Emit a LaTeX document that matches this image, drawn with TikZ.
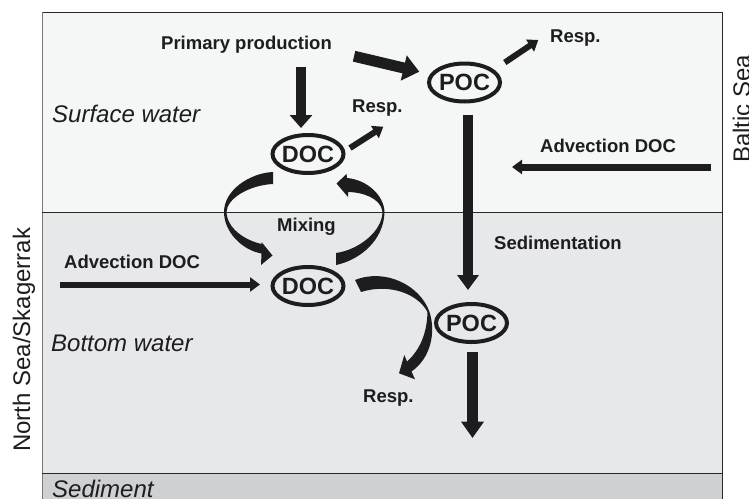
\documentclass[tikz,border=0pt]{standalone}
\usepackage{fontspec}
\setmainfont{Liberation Sans}
\usetikzlibrary{arrows.meta,shapes.geometric,calc}
\definecolor{ink}{RGB}{29,29,31}
\definecolor{surf}{RGB}{245,246,246}
\definecolor{botw}{RGB}{231,232,234}
\definecolor{sedc}{RGB}{207,208,210}
\definecolor{framec}{RGB}{40,40,40}
\definecolor{leftc}{RGB}{120,120,120}
\begin{document}
\begin{tikzpicture}[x=1pt,y=-1pt,
  lbl/.style={font=\fontsize{18.5}{20}\selectfont\bfseries, text=ink, inner sep=0pt, anchor=base west},
  zone/.style={font=\fontsize{24}{26}\selectfont\itshape, text=ink, inner sep=0pt, anchor=base west},
  side/.style={font=\fontsize{24}{26}\selectfont, text=ink, inner sep=0pt, anchor=base west, rotate=90},
  oval/.style={ellipse, draw=ink, line width=4pt, minimum width=71pt, minimum height=38pt, inner sep=0pt, font=\fontsize{23.5}{25}\selectfont\bfseries, text=ink},
  blk/.style={draw=ink, line cap=butt},
  ribbon/.style={fill=ink, draw=none}]
\useasboundingbox (0,0) rectangle (749,498);
% layers
\fill[surf] (42,12) rectangle (722,212);
\fill[botw] (42,212) rectangle (722,473);
\fill[sedc] (42,473) rectangle (722,500);
\draw[framec, line width=1pt] (42,12) -- (722,12) -- (722,500);
\draw[leftc, line width=1pt] (42,12) -- (42,500);
\draw[framec, line width=1pt] (42,212) -- (722,212);
\draw[framec, line width=1pt] (42,473) -- (722,473);
% labels
\node[lbl] (pp) at (161,49) {Primary production};
\node[lbl] (r1) at (550,42) {Resp.};
\node[lbl] (r2) at (352,112) {Resp.};
\node[zone] (sw) at (52,122) {Surface water};
\node[lbl] (advR) at (540,152.5) {Advection DOC};
\node[lbl] (mix) at (277,231) {Mixing};
\node[lbl] (sedl) at (494,249) {Sedimentation};
\node[lbl] (advL) at (64,268) {Advection DOC};
\node[zone] (bw) at (51,351) {Bottom water};
\node[lbl] (r3) at (363,402) {Resp.};
\node[zone] (sd) at (52,497) {Sediment};
\node[side] (ns) at (30,452) {North Sea/Skagerrak};
\node[side] (bs) at (750,163) {Baltic Sea};
% pools
\node[oval] (pt) at (464.5,82.5) {\makebox[0pt]{POC}};
\node[oval] (dt) at (308,154) {\makebox[0pt]{DOC}};
\node[oval] (db) at (308,286) {\makebox[0pt]{DOC}};
\node[oval] (pb) at (471.5,323) {\makebox[0pt]{POC}};
\coordinate (sink) at (472.5,438);
% straight arrows
\draw[blk, line width=10pt, -{Triangle[length=13pt,width=22pt]}]
  ($(pp.south -| dt.north)+(-7,14)$) -- ($(dt.north)+(-7,-5)$);
\draw[blk, line width=11pt, -{Triangle[length=16pt,width=25pt]}]
  ($(pp.east)+(22,12)$) -- ($(pt.west)+(-7.7,-10.8)$);
\draw[blk, line width=6pt, -{Triangle[length=10pt,width=14pt]}]
  ($(pt.center)+(40.3,-20)$) -- ($(r1.base west)+(-11.7,-2)$);
\draw[blk, line width=6pt, -{Triangle[length=10pt,width=14pt]}]
  ($(dt.center)+(42,-6)$) -- ($(r2.base west)+(31.3,14.7)$);
\draw[blk, line width=10pt, -{Triangle[length=15pt,width=21pt]}]
  ($(pt.south)+(3.5,11.5)$) -- ($(pb.north)+(-3.5,-12)$);
\draw[blk, line width=7pt, -{Triangle[length=10pt,width=14pt]}]
  ($(advR.base east)+(35,14.5)$) -- ($(advR.base west)+(-28,14.5)$);
\draw[blk, line width=6pt, -{Triangle[length=10pt,width=14pt]}]
  ($(advL.base west)+(-4,16.5)$) -- ($(db.west)+(-10.5,-1.5)$);
\draw[blk, line width=11pt, -{Triangle[length=16.5pt,width=22pt]}]
  ($(pb.south)+(1,8)$) -- (sink);
% mixing: surface DOC -> bottom DOC (left ribbon)
\fill[ribbon] (273,172) .. controls (250,173) and (224,190) .. (224,212)
  .. controls (224,232) and (242,250) .. (261.5,253.5)
  -- (261,265) -- (272.5,255.5) -- (261.5,242) -- (261.5,244)
  .. controls (244,240) and (227,228) .. (226.5,212)
  .. controls (227,198) and (250,185) .. (273,184) -- cycle;
% mixing: bottom DOC -> surface DOC (right ribbon)
\fill[ribbon] (336,265) .. controls (360,260) and (384,240) .. (384.5,212)
  .. controls (384,196) and (368,180) .. (347,178)
  -- (346.5,174) -- (336.5,183.5) -- (348,197) -- (348,192)
  .. controls (362,192) and (381,198) .. (382.5,212)
  .. controls (382,232) and (358,250) .. (336,253) -- cycle;
% bottom DOC -> Resp. (ribbon)
\fill[ribbon] (355,280) .. controls (385,268) and (420,285) .. (429.5,312)
  .. controls (436,332) and (431,358) .. (411.5,371.5)
  -- (415,379.3) -- (399,373.3) -- (404.3,355) -- (407,361.5)
  .. controls (420,350) and (427,333) .. (427.5,312)
  .. controls (418,294) and (390,283) .. (361,292) -- cycle;
\end{tikzpicture}
\end{document}
